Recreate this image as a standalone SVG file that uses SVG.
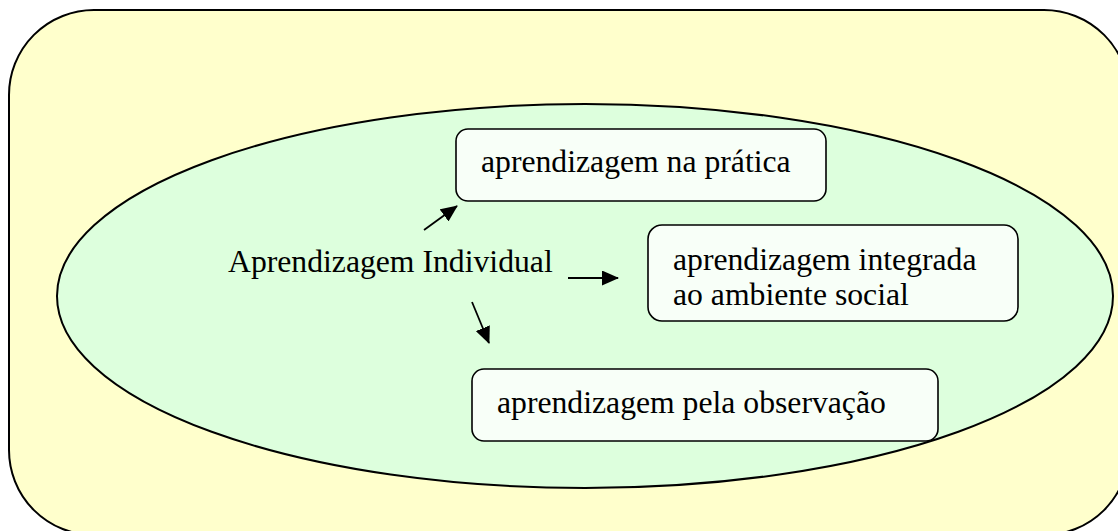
<svg xmlns="http://www.w3.org/2000/svg" width="1118" height="531" viewBox="0 0 1118 531">
  <style>
    .label { font-family: "Liberation Serif", "Times New Roman", serif; font-size: 31.7px; fill: #000; }
    .box { fill: #F8FFF8; stroke: #000; stroke-width: 1.6; }
    .conn { stroke: #000; stroke-width: 1.8; fill: none; marker-end: url(#head); }
  </style>
  <defs>
    <marker id="head" markerWidth="17" markerHeight="15" refX="16" refY="7.5" orient="auto" markerUnits="userSpaceOnUse">
      <path d="M0,0 L17,7.5 L0,15 Z" fill="#000"/>
    </marker>
  </defs>

  <!-- outer frame -->
  <g id="frame">
    <rect x="9" y="10" width="1120" height="525" rx="85" ry="85" fill="#FFFFCC" stroke="#000" stroke-width="2"/>
  </g>

  <!-- learning area -->
  <g id="area">
    <ellipse cx="585" cy="296" rx="528" ry="192" fill="#DDFFDD" stroke="#000" stroke-width="2"/>
  </g>

  <g id="center">
    <text class="label" x="228" y="272">Aprendizagem Individual</text>
  </g>

  <g id="pratica">
    <rect class="box" x="456" y="129" width="370" height="72" rx="12" ry="12"/>
    <text class="label" x="481" y="172">aprendizagem na prática</text>
  </g>

  <g id="social">
    <rect class="box" x="648" y="225" width="370" height="96" rx="14" ry="14"/>
    <text class="label" x="673" y="270">aprendizagem integrada</text>
    <text class="label" x="673" y="305">ao ambiente social</text>
  </g>

  <g id="observacao">
    <rect class="box" x="472" y="369" width="466" height="72" rx="12" ry="12"/>
    <text class="label" x="497" y="413">aprendizagem pela observação</text>
  </g>

  <g id="connectors">
    <line class="conn" x1="424" y1="230" x2="457" y2="206"/>
    <line class="conn" x1="568" y1="278" x2="618" y2="278"/>
    <line class="conn" x1="472" y1="302" x2="489" y2="343"/>
  </g>
</svg>
